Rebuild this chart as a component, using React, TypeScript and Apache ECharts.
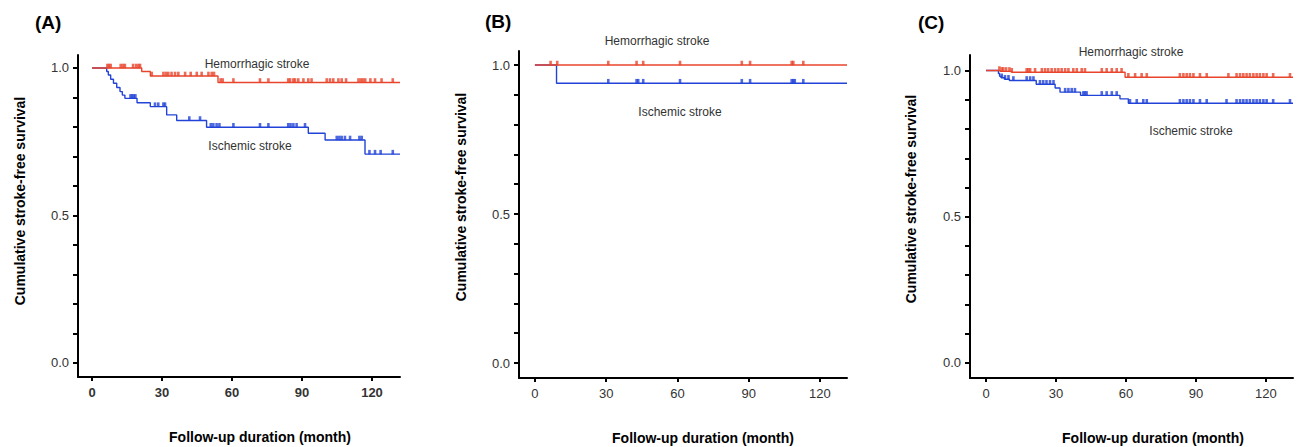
import React, { useEffect, useRef } from "react";
import * as echarts from "echarts";

const FONT = '"Liberation Sans", Arial, Helvetica, sans-serif';
const RED = "#e8452c";
const BLUE = "#2243d8";
const TEXT = "#333333";

// Tick values
const monthTicks = [0, 30, 60, 90, 120];
const survTicks = [0, 0.1, 0.2, 0.3, 0.4, 0.5, 0.6, 0.7, 0.8, 0.9, 1.0];
const survLabels = [0, 0.5, 1.0];

// Panel A: [month of event, survival after event]
const aHemorrhagic = [[0, 1], [21.3, 0.988], [25, 0.973], [54, 0.951], [132, 0.951]];
const aIschemic = [
  [0, 1], [6.3, 0.988], [7, 0.976], [8, 0.962], [9.2, 0.948], [10.6, 0.934], [12, 0.92],
  [13, 0.908], [14.1, 0.897], [19.3, 0.882], [25, 0.869], [32, 0.841], [36.3, 0.822],
  [49.1, 0.799], [92.7, 0.779], [99.9, 0.756], [117, 0.708], [132, 0.708],
];
const aHemorrhagicCensored = [
  6.6, 7.3, 8.0, 12.3, 13.3, 14.1, 17.6, 18.9, 19.9, 20.6, 25.6, 30.6, 31.7, 32.7, 34.1, 35.6,
  37.0, 39.9, 42.3, 44.9, 47.0, 49.9, 51.3, 52.3, 55.1, 56.0, 60.6, 72.0, 75.6, 84.1, 84.9,
  86.3, 87.0, 88.4, 90.6, 92.7, 94.1, 100.6, 102.0, 103.4, 105.6, 107.0, 108.9, 114.2, 115.2,
  116.1, 117.1, 119.3, 121.3, 124.1, 128.9,
];
const aIschemicCensored = [
  16.5, 17.2, 17.9, 18.6, 27.0, 28.4, 30.6, 31.3, 41.7, 46.3, 50.9, 52.0, 53.4, 54.6, 60.6, 72.0,
  75.6, 84.1, 85.1, 86.3, 87.7, 91.3, 104.9, 106.0, 107.0, 108.4, 110.6, 114.6, 115.6, 118.9,
  121.3, 123.7, 128.9,
];

// Panel B
const bHemorrhagic = [[0, 1], [131.4, 1]];
const bIschemic = [[0, 1], [9.1, 0.939], [131.4, 0.939]];
const bHemorrhagicCensored = [6.6, 9.4, 30.9, 42.8, 45.6, 61.1, 87.1, 90.6, 108.1, 108.8, 113.0];
const bIschemicCensored = [30.9, 42.8, 43.5, 45.6, 61.1, 87.1, 90.6, 108.1, 108.8, 109.4, 113.0];

// Panel C
const cHemorrhagic = [[0, 1], [6, 0.997], [11, 0.994], [59.6, 0.977], [131.6, 0.977]];
const cIschemic = [
  [0, 1], [5.3, 0.99], [5.8, 0.98], [6.5, 0.975], [8, 0.97], [10, 0.966], [21.5, 0.953],
  [29.6, 0.94], [31.7, 0.926], [40.5, 0.915], [57.4, 0.903], [61, 0.888], [131.6, 0.888],
];
const cHemorrhagicCensored = [
  5.7, 6.7, 7.4, 8.6, 10.0, 11.0, 17.4, 18.1, 18.9, 21.0, 23.9, 25.3, 26.6, 28.1, 29.6, 31.0,
  32.4, 33.9, 35.3, 37.4, 38.9, 41.0, 42.4, 49.6, 51.7, 53.9, 56.0, 58.1, 61.0, 63.9, 66.7,
  68.9, 83.1, 84.6, 86.0, 87.4, 88.9, 91.7, 94.6, 103.9, 107.4, 108.9, 110.3, 111.7, 113.1,
  114.6, 116.0, 117.4, 118.9, 120.3, 123.1, 130.3,
];
const cIschemicCensored = [
  6.7, 8.1, 9.6, 11.7, 17.4, 18.9, 20.3, 23.1, 24.5, 25.9, 27.4, 28.9, 33.9, 35.3, 36.7, 38.1,
  41.7, 42.4, 43.1, 49.6, 51.7, 53.9, 56.0, 61.7, 64.6, 67.4, 68.9, 83.1, 84.6, 86.0, 87.4,
  88.9, 91.7, 94.6, 103.1, 107.4, 108.9, 110.3, 111.7, 113.1, 114.6, 116.0, 117.4, 118.9,
  120.3, 123.1, 130.3,
];

function levelAt(curve: number[][], t: number): number {
  let v = curve[0][1];
  for (const [x, y] of curve) if (x <= t) v = y;
  return v;
}

type PanelCfg = {
  grid: { left: number; top: number; width: number; height: number };
  xRange: [number, number];
  yRange: [number, number];
  hem: number[][];
  isc: number[][];
  hemC: number[];
  iscC: number[];
  boldX: boolean;
};

const panels: PanelCfg[] = [
  {
    grid: { left: 78, top: 55, width: 322, height: 322 },
    xRange: [-6, 132], yRange: [-0.0475, 1.044],
    hem: aHemorrhagic, isc: aIschemic, hemC: aHemorrhagicCensored, iscC: aIschemicCensored, boldX: true,
  },
  {
    grid: { left: 519, top: 51, width: 328, height: 327 },
    xRange: [-6.7, 131.4], yRange: [-0.0503, 1.047],
    hem: bHemorrhagic, isc: bIschemic, hemC: bHemorrhagicCensored, iscC: bIschemicCensored, boldX: false,
  },
  {
    grid: { left: 970, top: 55, width: 323, height: 323 },
    xRange: [-6.9, 131.6], yRange: [-0.0513, 1.053],
    hem: cHemorrhagic, isc: cIschemic, hemC: cHemorrhagicCensored, iscC: cIschemicCensored, boldX: false,
  },
];

function buildOption() {
  const grids: any[] = [];
  const xAxes: any[] = [];
  const yAxes: any[] = [];
  const series: any[] = [];
  panels.forEach((p, i) => {
    grids.push({ ...p.grid, containLabel: false });
    xAxes.push({
      type: "value", gridIndex: i, min: p.xRange[0], max: p.xRange[1],
      axisLine: { show: true, onZero: false, lineStyle: { color: "#000", width: 2 } },
      axisTick: { show: true, customValues: monthTicks, length: 4, lineStyle: { color: "#000", width: 2 } },
      axisLabel: {
        show: true, customValues: monthTicks, margin: 9, color: TEXT, fontSize: 13,
        fontWeight: p.boldX ? "bold" : "normal", fontFamily: FONT,
      },
      splitLine: { show: false },
    });
    yAxes.push({
      type: "value", gridIndex: i, min: p.yRange[0], max: p.yRange[1],
      axisLine: { show: true, onZero: false, lineStyle: { color: "#000", width: 2 } },
      axisTick: { show: true, customValues: survTicks, length: 5, lineStyle: { color: "#000", width: 2 } },
      axisLabel: {
        show: true, customValues: survLabels, margin: 9, color: TEXT, fontSize: 13, fontFamily: FONT,
        formatter: (v: number) => v.toFixed(1),
      },
      splitLine: { show: false },
    });
    series.push({
      type: "line", xAxisIndex: i, yAxisIndex: i, step: "end", data: p.isc, showSymbol: false,
      lineStyle: { color: BLUE, width: 1.4 }, silent: true, z: 2,
    });
    series.push({
      type: "line", xAxisIndex: i, yAxisIndex: i, step: "end", data: p.hem, showSymbol: false,
      lineStyle: { color: RED, width: 1.4 }, silent: true, z: 3,
    });
    series.push({
      type: "scatter", xAxisIndex: i, yAxisIndex: i, silent: true, z: 4,
      data: p.iscC.map((t) => [t, levelAt(p.isc, t)]),
      symbol: "rect", symbolSize: [2.6, 4.5], symbolOffset: [0, -2], itemStyle: { color: BLUE },
    });
    series.push({
      type: "scatter", xAxisIndex: i, yAxisIndex: i, silent: true, z: 5,
      data: p.hemC.map((t) => [t, levelAt(p.hem, t)]),
      symbol: "rect", symbolSize: [2.6, 4.5], symbolOffset: [0, -2], itemStyle: { color: RED },
    });
  });

  const txt = (text: string, x: number, y: number, font: string, fill: string, align = "center", rotation = 0) => ({
    type: "text", x, y, rotation, silent: true,
    style: { text, font, fill, textAlign: align, textVerticalAlign: "middle" },
  });
  const lbl = `12px ${FONT}`;
  const ttl = `bold 14px ${FONT}`;
  const letter = `bold 19px ${FONT}`;
  const yTitle = "Cumulative stroke-free survival";
  const xTitle = "Follow-up duration (month)";
  const graphic = [
    txt("(A)", 35, 22, letter, "#000", "left"),
    txt("(B)", 485, 21, letter, "#000", "left"),
    txt("(C)", 918, 22, letter, "#000", "left"),
    txt("Hemorrhagic stroke", 257, 64, lbl, TEXT),
    txt("Ischemic stroke", 250, 146, lbl, TEXT),
    txt("Hemorrhagic stroke", 657, 41, lbl, TEXT),
    txt("Ischemic stroke", 680, 112, lbl, TEXT),
    txt("Hemorrhagic stroke", 1131, 52, lbl, TEXT),
    txt("Ischemic stroke", 1191, 131, lbl, TEXT),
    txt(xTitle, 260, 437, ttl, "#000"),
    txt(xTitle, 703, 438, ttl, "#000"),
    txt(xTitle, 1153, 438, ttl, "#000"),
    txt(yTitle, 20, 201, ttl, "#000", "center", Math.PI / 2),
    txt(yTitle, 461, 197, ttl, "#000", "center", Math.PI / 2),
    txt(yTitle, 911, 199, ttl, "#000", "center", Math.PI / 2),
  ];

  return {
    animation: false,
    backgroundColor: "#ffffff",
    textStyle: { fontFamily: FONT },
    grid: grids,
    xAxis: xAxes,
    yAxis: yAxes,
    series,
    graphic,
  };
}

export default function App() {
  const ref = useRef<HTMLDivElement>(null);
  useEffect(() => {
    if (!ref.current) return;
    const chart = echarts.init(ref.current, undefined, { renderer: "svg" });
    chart.setOption(buildOption() as any);
    return () => chart.dispose();
  }, []);
  return (
    <div
      ref={ref}
      style={{ position: "fixed", left: 0, top: 0, width: 1298, height: 447, background: "#fff" }}
    />
  );
}
